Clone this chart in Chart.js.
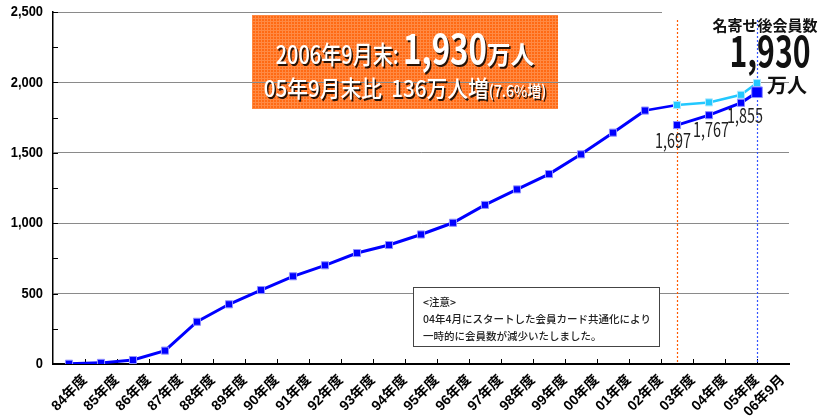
<!DOCTYPE html>
<html lang="ja">
<head>
<meta charset="UTF-8">
<title>会員数の推移</title>
<style>
  body { margin: 0; background: #fff; }
  #chart { display: block; }
</style>
</head>
<body>
<canvas id="chart" width="822" height="418"></canvas>
<script src="https://cdn.jsdelivr.net/npm/chart.js"></script>
<script>
// 年度ラベル
const periods = ['84年度', '85年度', '86年度', '87年度', '88年度', '89年度', '90年度', '91年度',
  '92年度', '93年度', '94年度', '95年度', '96年度', '97年度', '98年度', '99年度', '00年度',
  '01年度', '02年度', '03年度', '04年度', '05年度', '06年9月'];
// 会員数（万人） 84年度〜02年度
const members = [2, 8, 28, 95, 300, 424, 525, 623, 701, 788, 845, 920, 1003, 1130, 1240, 1349, 1489, 1643, 1800];
// 03年度〜06年9月 名寄せ前
const membersBefore = [1840, 1858, 1912, 1995];
// 03年度〜06年9月 名寄せ後
const membersAfter = [1697, 1767, 1855, 1930];
const yTicks = [0, 500, 1000, 1500, 2000, 2500];

const BLUE = '#0000ff';
const CYAN = '#22c8ff';
const fmt = v => v.toLocaleString('en-US');
const last = periods.length - 1;
// 06年9月は05年度との境目に置く
const pos = i => (i < last ? i + 0.5 : i);
const tickPos = periods.map((p, i) => (i < last ? i + 1 : last + 0.8));
const first = members.length; // 03年度の index

function squeeze(ctx, text, x, y, font, sx) {
  ctx.save();
  ctx.font = font;
  ctx.translate(x, y);
  ctx.scale(sx, 1);
  ctx.fillText(text, 0, 0);
  ctx.restore();
}
function widthOf(ctx, text, font, sx) {
  ctx.save();
  ctx.font = font;
  const w = ctx.measureText(text).width * sx;
  ctx.restore();
  return w;
}
function line(ctx, x1, y1, x2, y2) {
  ctx.beginPath();
  ctx.moveTo(x1, y1);
  ctx.lineTo(x2, y2);
  ctx.stroke();
}
function orangePattern(ctx) {
  const c = document.createElement('canvas');
  c.width = 3; c.height = 3;
  const p = c.getContext('2d');
  p.fillStyle = '#ff6a14';
  p.fillRect(0, 0, 3, 3);
  p.fillStyle = '#ff8a44';
  p.fillRect(0, 0, 3, 1);
  p.fillRect(0, 0, 1, 3);
  return ctx.createPattern(c, 'repeat');
}

const decor = {
  id: 'decor',
  beforeDraw(chart) {
    const ctx = chart.ctx;
    ctx.save();
    ctx.fillStyle = orangePattern(ctx);
    ctx.fillRect(252, 15, 306, 94);
    ctx.restore();
  },
  beforeDatasetsDraw(chart) {
    const { ctx, chartArea: a, scales: { x, y } } = chart;
    ctx.save();
    ctx.fillStyle = '#fff';
    ctx.fillRect(662, 0, 160, 30);
    // 内向きの目盛り
    ctx.strokeStyle = '#000';
    ctx.lineWidth = 1;
    for (let i = 1; i <= last; i++) {
      const px = Math.round(x.getPixelForValue(i)) + 0.5;
      line(ctx, px, a.bottom, px, a.bottom - 5);
    }
    y.ticks.forEach(t => {
      const py = Math.round(y.getPixelForValue(t.value)) + 0.5;
      line(ctx, a.left, py, a.left + 5, py);
    });
    // 縦軸の目盛りラベル（細めの字体）
    ctx.fillStyle = '#000';
    ctx.textAlign = 'right';
    ctx.textBaseline = 'middle';
    yTicks.forEach(v => {
      squeeze(ctx, fmt(v), a.left - 10, y.getPixelForValue(v), "bold 15px 'Liberation Sans'", 0.86);
    });
    // 点線
    ctx.setLineDash([2, 2]);
    ctx.lineWidth = 1.2;
    ctx.strokeStyle = '#ff5a00';
    let px = Math.round(x.getPixelForValue(pos(first))) + 0.5;
    line(ctx, px, 20, px, a.bottom);
    ctx.strokeStyle = '#3355ff';
    px = Math.round(x.getPixelForValue(pos(last))) + 0.5;
    line(ctx, px, 20, px, a.bottom);
    ctx.restore();
  },
  afterDatasetsDraw(chart) {
    const ctx = chart.ctx;
    ctx.save();

    // 見出し（オレンジの箱）
    ctx.fillStyle = '#fff';
    ctx.shadowColor = 'rgba(0,0,0,0.85)';
    ctx.shadowOffsetX = 1.5;
    ctx.shadowOffsetY = 1.5;
    ctx.textBaseline = 'alphabetic';
    ctx.textAlign = 'left';
    const total = membersAfter[membersAfter.length - 1];
    const l1 = [
      ['2006年9月末: ', "500 25px 'Noto Sans CJK JP'", 0.8],
      [fmt(total), "bold 40px 'Noto Sans CJK JP'", 0.78],
      ['万人', "bold 25px 'Noto Sans CJK JP'", 0.95]
    ];
    const l2 = [
      ['05年9月末比  136万人増', "500 23px 'Noto Sans CJK JP'", 0.9],
      ['(7.6%増)', "500 16px 'Noto Sans CJK JP'", 0.88]
    ];
    [[l1, 64], [l2, 97]].forEach(([parts, by]) => {
      const w = parts.reduce((s, p) => s + widthOf(ctx, p[0], p[1], p[2]), 0);
      let cx = 405 - w / 2;
      parts.forEach(p => {
        squeeze(ctx, p[0], cx, by, p[1], p[2]);
        cx += widthOf(ctx, p[0], p[1], p[2]);
      });
    });
    ctx.shadowColor = 'transparent';

    // 右上の表示
    ctx.fillStyle = '#111';
    ctx.textAlign = 'center';
    ctx.textBaseline = 'middle';
    ctx.font = "bold 15px 'Noto Sans CJK JP'";
    ctx.fillText('名寄せ後会員数', 765, 25);
    ctx.textBaseline = 'alphabetic';
    squeeze(ctx, fmt(total), 770, 67, "bold 42px 'Noto Sans CJK JP'", 0.72);
    ctx.textAlign = 'left';
    ctx.textBaseline = 'middle';
    ctx.font = "bold 20px 'Noto Sans CJK JP'";
    ctx.fillText('万人', 767, 85);

    // データラベル
    const meta = chart.getDatasetMeta(2);
    const offs = [[-4, 15], [2, 14], [4, 13]];
    ctx.textAlign = 'center';
    ctx.fillStyle = '#222';
    offs.forEach((o, k) => {
      const el = meta.data[k];
      squeeze(ctx, fmt(membersAfter[k]), el.x + o[0], el.y + o[1], "20px 'Noto Sans CJK JP'", 0.72);
    });

    // 注意書き
    ctx.fillStyle = '#fff';
    ctx.fillRect(413.5, 287.5, 246, 59);
    ctx.strokeStyle = '#444';
    ctx.lineWidth = 1;
    ctx.strokeRect(413.5, 287.5, 246, 59);
    ctx.fillStyle = '#222';
    ctx.textAlign = 'left';
    ctx.font = "500 10.5px 'Noto Sans CJK JP'";
    ctx.fillText('<注意>', 423, 302.5);
    ctx.fillText('04年4月にスタートした会員カード共通化により', 423, 319);
    ctx.fillText('一時的に会員数が減少いたしました。', 423, 336.5);
    ctx.restore();
  }
};

const mainData = members.map((v, i) => ({ x: pos(i), y: v }));
const beforeData = [{ x: pos(first - 1), y: members[first - 1] }]
  .concat(membersBefore.map((v, k) => ({ x: pos(first + k), y: v })));
const afterData = membersAfter.map((v, k) => ({ x: pos(first + k), y: v }));

new Chart(document.getElementById('chart'), {
  type: 'line',
  data: {
    datasets: [
      {
        label: '会員数',
        data: mainData,
        borderColor: BLUE,
        borderWidth: 3,
        pointStyle: 'rect',
        pointRadius: 5,
        pointBackgroundColor: BLUE,
        pointBorderColor: '#8f8fff',
        pointBorderWidth: 1,
        order: 1
      },
      {
        label: '名寄せ前',
        data: beforeData,
        borderColor: CYAN,
        borderWidth: 2.5,
        segment: { borderColor: c => (c.p0DataIndex === 0 ? BLUE : CYAN) },
        pointStyle: 'rect',
        pointRadius: c => (c.dataIndex === 0 ? 0 : 5),
        pointBackgroundColor: CYAN,
        pointBorderColor: '#aee8ff',
        pointBorderWidth: 1,
        order: 3
      },
      {
        label: '名寄せ後',
        data: afterData,
        borderColor: BLUE,
        borderWidth: 3,
        pointStyle: 'rect',
        pointRadius: c => (c.dataIndex === membersAfter.length - 1 ? 7.5 : 5),
        pointBackgroundColor: BLUE,
        pointBorderColor: '#8f8fff',
        pointBorderWidth: 1,
        order: 2
      }
    ]
  },
  options: {
    responsive: false,
    animation: false,
    layout: { padding: { left: 0, right: 33, top: 12, bottom: 0 } },
    plugins: { legend: { display: false }, tooltip: { enabled: false } },
    scales: {
      x: {
        type: 'linear',
        min: 0,
        max: periods.length,
        afterBuildTicks: s => { s.ticks = tickPos.map(v => ({ value: v })); },
        afterFit: s => { s.height = 54; },
        grid: { display: false, drawTicks: false },
        border: { color: '#000', width: 2 },
        ticks: {
          autoSkip: false,
          maxRotation: 45,
          minRotation: 45,
          padding: 8,
          color: '#000',
          font: { family: "'Liberation Sans', 'Noto Sans CJK JP'", weight: 'bold', size: 14 },
          callback: (v, i) => periods[i]
        }
      },
      y: {
        min: yTicks[0],
        max: yTicks[yTicks.length - 1],
        afterFit: s => { s.width = 53; },
        grid: {
          color: c => (c.tick.value % (yTicks[1] - yTicks[0]) === 0 ? '#8a8a8a' : 'transparent'),
          lineWidth: 1,
          drawTicks: false
        },
        border: { color: '#000', width: 1.5 },
        ticks: {
          display: false,
          stepSize: (yTicks[1] - yTicks[0]) / 2
        }
      }
    }
  },
  plugins: [decor]
});
</script>
</body>
</html>
